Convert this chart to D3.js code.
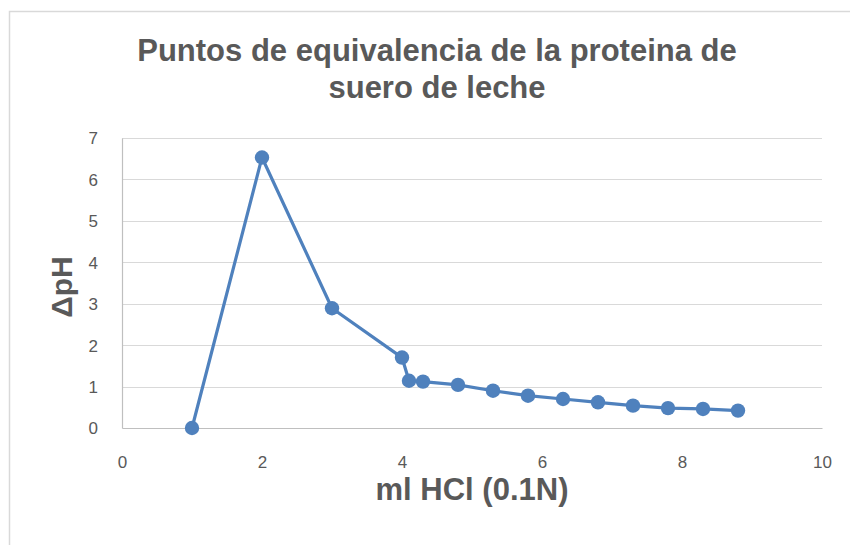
<!DOCTYPE html>
<html>
<head>
<meta charset="utf-8">
<script src="https://cdn.jsdelivr.net/npm/d3@7"></script>
<style>
  body { margin: 0; background: #fff; }
  text { font-family: "Liberation Sans", Arial, sans-serif; }
</style>
</head>
<body>
<svg id="chart" width="850" height="545"></svg>
<script>
// data
const mlHCl = [1, 2, 3, 4, 4.1, 4.3, 4.8, 5.3, 5.8, 6.3, 6.8, 7.3, 7.8, 8.3, 8.8];
const deltaPH = [0, 6.53, 2.89, 1.70, 1.14, 1.12, 1.04, 0.90, 0.78, 0.70, 0.62, 0.54, 0.48, 0.46, 0.42];
const xTicks = [0, 2, 4, 6, 8, 10];
const yTicks = [0, 1, 2, 3, 4, 5, 6, 7];
const titleLines = ["Puntos de equivalencia de la proteina de", "suero de leche"];

const points = mlHCl.map((x, i) => ({ x: x, y: deltaPH[i] }));

const svg = d3.select("#chart");
const margin = { top: 138, left: 122, right: 28, bottom: 117 };
const width = 850 - margin.left - margin.right;
const height = 545 - margin.top - margin.bottom;

// outer chart border (runs off the right and bottom of the picture)
svg.append("rect")
    .attr("x", 9.5).attr("y", 11.5)
    .attr("width", 900).attr("height", 600)
    .attr("fill", "none")
    .attr("stroke", "#d9d9d9")
    .attr("stroke-width", 1.5);

const g = svg.append("g")
    .attr("transform", `translate(${margin.left}, ${margin.top})`);

const x = d3.scaleLinear().domain([0, 10]).range([0, width]);
const y = d3.scaleLinear().domain([0, 7]).range([height, 0]);

// gridlines
g.append("g")
    .selectAll("line")
    .data(yTicks.filter(d => d > 0))
    .enter().append("line")
    .attr("x1", 0).attr("x2", width)
    .attr("y1", d => Math.round(y(d)) + 0.5)
    .attr("y2", d => Math.round(y(d)) + 0.5)
    .attr("stroke", "#d9d9d9")
    .attr("stroke-width", 1);

// axes
const xAxis = g.append("g")
    .attr("transform", `translate(0, ${height})`)
    .call(d3.axisBottom(x).tickValues(xTicks).tickFormat(d3.format("d")).tickSize(0).tickPadding(28));
const yAxis = g.append("g")
    .call(d3.axisLeft(y).tickValues(yTicks).tickFormat(d3.format("d")).tickSize(0).tickPadding(24));

[xAxis, yAxis].forEach(a => {
    a.select(".domain").attr("stroke", "#bfbfbf").attr("stroke-width", 1.2);
    a.selectAll("text")
        .attr("fill", "#595959")
        .style("font-family", "'Liberation Sans', sans-serif")
        .style("font-size", "17px");
});
yAxis.selectAll("text").attr("dy", "0.35em");

// series line
const line = d3.line().x(d => x(d.x)).y(d => y(d.y));
g.append("path")
    .datum(points)
    .attr("d", line)
    .attr("fill", "none")
    .attr("stroke", "#4f81bd")
    .attr("stroke-width", 3.2)
    .attr("stroke-linejoin", "round");

g.selectAll(".marker")
    .data(points)
    .enter().append("circle")
    .attr("class", "marker")
    .attr("cx", d => x(d.x))
    .attr("cy", d => y(d.y))
    .attr("r", 7.2)
    .attr("fill", "#4f81bd");

// titles
svg.append("text")
    .attr("x", 437).attr("y", 61)
    .attr("text-anchor", "middle")
    .attr("fill", "#595959")
    .style("font-size", "31px").style("font-weight", "bold")
    .selectAll("tspan")
    .data(titleLines)
    .enter().append("tspan")
    .attr("x", 437)
    .attr("dy", (d, i) => i === 0 ? 0 : 37)
    .text(d => d);

svg.append("text")
    .attr("x", margin.left + width / 2).attr("y", 500)
    .attr("text-anchor", "middle")
    .attr("fill", "#595959")
    .style("font-size", "31px").style("font-weight", "bold")
    .text("ml HCl (0.1N)");

svg.append("text")
    .attr("transform", `translate(72, ${margin.top + height / 2 + 4}) rotate(-90)`)
    .attr("text-anchor", "middle")
    .attr("fill", "#595959")
    .style("font-size", "30px").style("font-weight", "bold")
    .text("ΔpH");
</script>
</body>
</html>
